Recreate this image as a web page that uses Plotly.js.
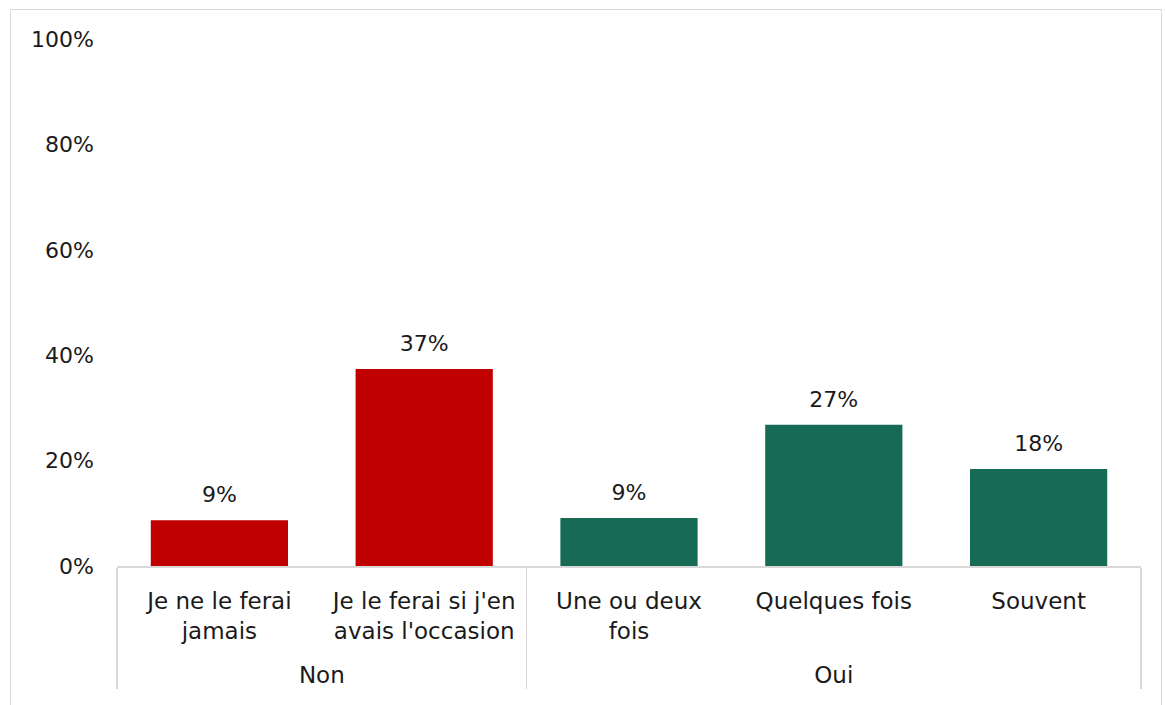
<!DOCTYPE html>
<html>
<head>
<meta charset="utf-8">
<script src="https://cdn.plot.ly/plotly-3.0.1.min.js"></script>
<style>
  html, body { margin: 0; padding: 0; background: #fff; overflow: hidden; }
  #chart { position: absolute; left: 10px; top: 9px; width: 1150px; height: 700px;
           border: 1px solid #d9d9d9; border-bottom: none; }
</style>
</head>
<body>
<div id="chart"></div>
<script>
const groups = ["<br>Non", "<br>Non", "<br>Oui", "<br>Oui", "<br>Oui"];
const categories = ["Je ne le ferai<br>jamais", "Je le ferai si j'en<br>avais l'occasion", "Une ou deux<br>fois", "Quelques fois", "Souvent"];
const values = [0.087, 0.374, 0.091, 0.268, 0.184];
const labels = ["9%", "37%", "9%", "27%", "18%"];
const colors = ["#C00000", "#C00000", "#176A53", "#176A53", "#176A53"];
const yTicks = [0, 0.2, 0.4, 0.6, 0.8, 1.0];
const yTickText = ["0%", "20%", "40%", "60%", "80%", "100%"];

const font = "'DejaVu Sans', sans-serif";
const fsize = 22;
const fcolor = "#1a1a1a";

Plotly.newPlot("chart", [{
  type: "bar",
  x: [groups, categories],
  y: values,
  marker: { color: colors },
  width: 0.67,
  hoverinfo: "none"
}, {
  type: "scatter",
  mode: "markers+text",
  x: [groups, categories],
  y: values,
  text: labels,
  textposition: "top center",
  textfont: { family: font, size: fsize, color: fcolor },
  marker: { size: 18, color: "rgba(0,0,0,0)" },
  cliponaxis: false,
  hoverinfo: "none"
}], {
  width: 1150, height: 696,
  margin: { l: 106, r: 20, t: 29, b: 140 },
  paper_bgcolor: "#fff", plot_bgcolor: "#fff",
  showlegend: false,
  font: { family: font, size: fsize, color: fcolor },
  xaxis: {
    type: "multicategory",
    showline: true, linecolor: "#d9d9d9", linewidth: 1.5,
    showdividers: true, dividercolor: "#d9d9d9", dividerwidth: 1.5,
    tickfont: { family: font, size: 23, color: fcolor },
    ticklabelstandoff: 14,
    ticks: "", showgrid: false, zeroline: false
  },
  yaxis: {
    range: [0, 1], tickvals: yTicks, ticktext: yTickText,
    showgrid: false, zeroline: false, showline: false,
    ticks: "", ticklen: 0, ticklabelstandoff: 22,
    tickfont: { family: font, size: fsize, color: fcolor }
  },
  bargap: 0.33
}, { staticPlot: true });
</script>
</body>
</html>
